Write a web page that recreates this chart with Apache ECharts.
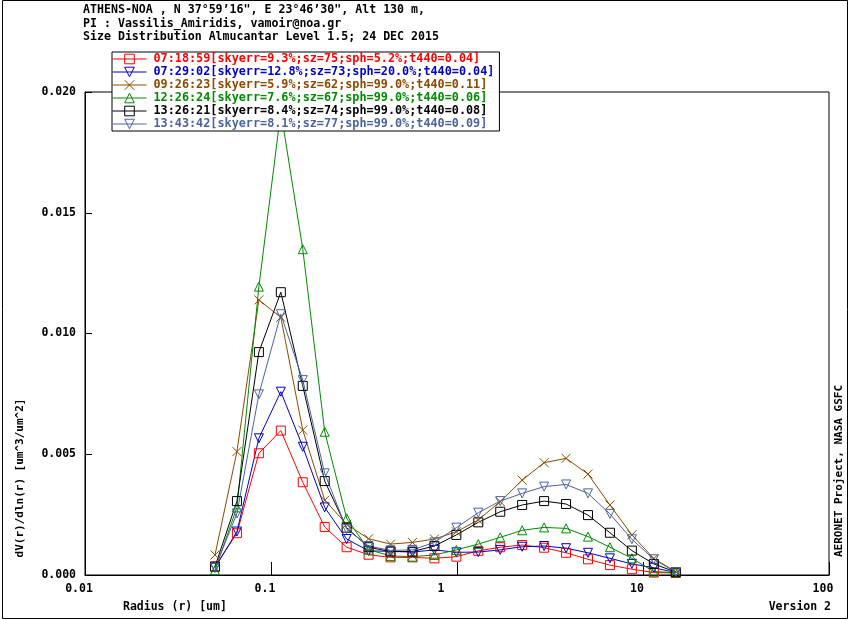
<!DOCTYPE html>
<html>
<head>
<meta charset="utf-8">
<script src="https://cdn.jsdelivr.net/npm/echarts@6/dist/echarts.min.js"></script>
<style>
  html, body { margin: 0; padding: 0; background: #fff; }
  #chart { width: 850px; height: 620px; }
</style>
</head>
<body>
<div id="chart"></div>
<script>
// AERONET size distribution, 22 radius bins (um)
var radius = [0.050000, 0.065604, 0.086077, 0.112939, 0.148184, 0.194429, 0.255105,
  0.334716, 0.439173, 0.576227, 0.756052, 0.991996, 1.301571, 1.707757, 2.240702,
  2.939966, 3.857452, 5.061260, 6.640745, 8.713145, 11.432287, 15.000000];

var names = [
  '07:18:59[skyerr=9.3%;sz=75;sph=5.2%;t440=0.04]',
  '07:29:02[skyerr=12.8%;sz=73;sph=20.0%;t440=0.04]',
  '09:26:23[skyerr=5.9%;sz=62;sph=99.0%;t440=0.11]',
  '12:26:24[skyerr=7.6%;sz=67;sph=99.0%;t440=0.06]',
  '13:26:21[skyerr=8.4%;sz=74;sph=99.0%;t440=0.08]',
  '13:43:42[skyerr=8.1%;sz=77;sph=99.0%;t440=0.09]'
];

var v0718 = [0.00035, 0.00173, 0.00504, 0.00598, 0.00384, 0.00199, 0.00115, 0.00084,
  0.00073, 0.00073, 0.00069, 0.00076, 0.00100, 0.00115, 0.00124, 0.00113, 0.00092,
  0.00065, 0.00041, 0.00024, 0.00010, 0.00008];
var v0729 = [0.00030, 0.00180, 0.00566, 0.00759, 0.00531, 0.00280, 0.00149, 0.00100,
  0.00098, 0.00095, 0.00104, 0.00094, 0.00095, 0.00104, 0.00117, 0.00120, 0.00111,
  0.00092, 0.00069, 0.00046, 0.00030, 0.00010];
var v0926 = [0.00083, 0.00511, 0.01139, 0.01067, 0.00600, 0.00310, 0.00210, 0.00150,
  0.00128, 0.00135, 0.00149, 0.00179, 0.00228, 0.00304, 0.00393, 0.00465, 0.00483,
  0.00418, 0.00290, 0.00166, 0.00068, 0.00014];
var v1226 = [0.00020, 0.00280, 0.01194, 0.01920, 0.01349, 0.00593, 0.00235, 0.00105,
  0.00079, 0.00076, 0.00083, 0.00104, 0.00128, 0.00156, 0.00185, 0.00197, 0.00193,
  0.00159, 0.00115, 0.00069, 0.00014, 0.00010];
var v1326 = [0.00035, 0.00306, 0.00923, 0.01171, 0.00783, 0.00389, 0.00196, 0.00115,
  0.00097, 0.00097, 0.00120, 0.00166, 0.00218, 0.00262, 0.00290, 0.00306, 0.00294,
  0.00248, 0.00175, 0.00101, 0.00046, 0.00012];
var v1343 = [0.00030, 0.00255, 0.00748, 0.01080, 0.00807, 0.00421, 0.00190, 0.00120,
  0.00102, 0.00104, 0.00135, 0.00196, 0.00258, 0.00306, 0.00338, 0.00366, 0.00375,
  0.00338, 0.00253, 0.00148, 0.00065, 0.00012];

var yTicks = [0.000, 0.005, 0.010, 0.015, 0.020];

var values = [v0718, v0729, v0926, v1226, v1326, v1343];
var colors = ['#ff0000', '#0000c8', '#8c4a00', '#008c00', '#000000', '#4b64a0'];
var symbols = [
  'rect',
  'path://M0,0 L10,0 L5,10 Z',
  'path://M0,0 L10,10 M10,0 L0,10',
  'triangle',
  'rect',
  'path://M0,0 L10,0 L5,10 Z'
];

var FONT = '"DejaVu Sans Mono", "Liberation Mono", monospace';

function zip(xs, ys) {
  var out = [];
  for (var i = 0; i < xs.length; i++) out.push([xs[i], ys[i]]);
  return out;
}

var series = values.map(function (v, k) {
  return {
    name: names[k],
    type: 'line',
    data: zip(radius, v),
    symbol: symbols[k],
    symbolSize: 9,
    showAllSymbol: true,
    animation: false,
    lineStyle: { color: colors[k], width: 1 },
    itemStyle: { color: 'rgba(0,0,0,0)', borderColor: colors[k], borderWidth: 1 }
  };
});

var chart = echarts.init(document.getElementById('chart'));
chart.setOption({
  backgroundColor: '#fff',
  animation: false,
  grid: {
    left: 85, top: 92, width: 744, height: 483,
    show: true, borderColor: '#000', borderWidth: 1, backgroundColor: 'transparent'
  },
  legend: {
    orient: 'vertical',
    left: 112, top: 52,
    padding: [1, 5, 1, 0],
    itemGap: 1,
    itemWidth: 34,
    itemHeight: 12,
    backgroundColor: '#fff',
    borderColor: '#000',
    borderWidth: 1,
    selectedMode: false,
    lineStyle: { width: 1 },
    itemStyle: { borderWidth: 1 },
    textStyle: { fontFamily: FONT, fontSize: 11.8, fontWeight: 'bold', padding: [0, 0, 0, 2] },
    data: names.map(function (n, k) {
      return { name: n, textStyle: { color: colors[k] } };
    })
  },
  xAxis: {
    type: 'log',
    logBase: 10,
    min: 0.01, max: 100,
    axisLine: { lineStyle: { color: '#000', width: 1 } },
    axisTick: { inside: true, length: 13, lineStyle: { color: '#000' } },
    minorTick: { show: false },
    splitLine: { show: false },
    axisLabel: {
      color: '#000', fontFamily: FONT, fontSize: 11.5, fontWeight: 'bold',
      margin: 8, padding: [0, 12, 0, 0],
      formatter: function (v) {
        var s = String(+v.toPrecision(3));
        return s === '1' ? '{one|1}' : s;
      },
      rich: {
        one: { fontFamily: FONT, fontSize: 11.5, fontWeight: 'bold', color: '#000', padding: [0, 20, 0, 0] }
      }
    }
  },
  yAxis: {
    type: 'value',
    min: 0, max: 0.020, interval: 0.005,
    axisLine: { show: true, lineStyle: { color: '#000', width: 1 } },
    axisTick: { show: true, inside: true, length: 7, lineStyle: { color: '#000' } },
    splitLine: { show: false },
    axisLabel: {
      color: '#000', fontFamily: FONT, fontSize: 11.5, fontWeight: 'bold',
      margin: 9,
      formatter: function (v) {
        var t = yTicks.reduce(function (a, b) { return Math.abs(b - v) < Math.abs(a - v) ? b : a; });
        return t.toFixed(3);
      }
    }
  },
  graphic: [
    { type: 'rect', silent: true, z: 0,
      shape: { x: 2.5, y: 0.5, width: 845, height: 618 },
      style: { fill: 'none', stroke: '#000', lineWidth: 1 } },
    { type: 'text', x: 83, y: 9.5,
      style: { text: 'ATHENS-NOA , N 37\u00b059\u201916", E 23\u00b046\u201930", Alt 130 m,', fill: '#000',
        font: 'bold 11.6px ' + FONT, textVerticalAlign: 'middle' } },
    { type: 'text', x: 83, y: 23.5,
      style: { text: 'PI : Vassilis_Amiridis, vamoir@noa.gr', fill: '#000',
        font: 'bold 11.6px ' + FONT, textVerticalAlign: 'middle' } },
    { type: 'text', x: 83, y: 37,
      style: { text: 'Size Distribution Almucantar Level 1.5; 24 DEC 2015', fill: '#000',
        font: 'bold 11.6px ' + FONT, textVerticalAlign: 'middle' } },
    { type: 'text', x: 123, y: 607,
      style: { text: 'Radius (r) [um]', fill: '#000',
        font: 'bold 11.5px ' + FONT, textVerticalAlign: 'middle' } },
    { type: 'text', x: 831, y: 607,
      style: { text: 'Version 2', fill: '#000', textAlign: 'right',
        font: 'bold 11.5px ' + FONT, textVerticalAlign: 'middle' } },
    { type: 'text', x: 20, y: 478, rotation: Math.PI / 2,
      style: { text: 'dV(r)/dln(r) [um^3/um^2]', fill: '#000', textAlign: 'center',
        font: 'bold 11px ' + FONT, textVerticalAlign: 'middle' } },
    { type: 'text', x: 839, y: 471, rotation: Math.PI / 2,
      style: { text: 'AERONET Project, NASA GSFC', fill: '#000', textAlign: 'center',
        font: 'bold 11px ' + FONT, textVerticalAlign: 'middle' } }
  ],
  series: series
});
</script>
</body>
</html>
